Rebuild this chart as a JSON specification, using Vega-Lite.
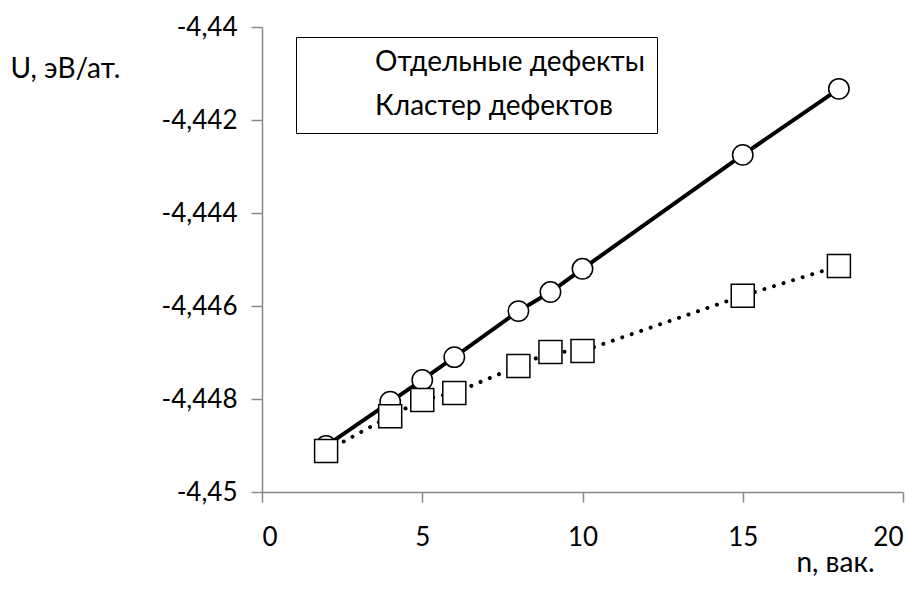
{
  "$schema": "https://vega.github.io/schema/vega-lite/v6.json",
  "autosize": "none",
  "width": 641,
  "height": 465,
  "padding": {"left": 262, "top": 27, "right": 21, "bottom": 104},
  "background": "white",
  "config": {
    "locale": {"number": {"decimal": ",", "thousands": " ", "grouping": [3], "currency": ["", ""], "minus": "-"}},
    "view": {"stroke": null},
    "font": "Lato",
    "axis": {
      "grid": false,
      "domainColor": "#898989",
      "domainWidth": 1.5,
      "tickColor": "#898989",
      "tickWidth": 1.5,
      "labelFont": "Lato",
      "labelFontSize": 26,
      "labelColor": "black",
      "titleFont": "Lato",
      "titleFontSize": 28,
      "titleFontWeight": "normal",
      "titleColor": "black"
    }
  },
  "data": {
    "values": [
      {"n": 2, "U": -4.44901, "series": "Отдельные дефекты"},
      {"n": 4, "U": -4.44806, "series": "Отдельные дефекты"},
      {"n": 5, "U": -4.44759, "series": "Отдельные дефекты"},
      {"n": 6, "U": -4.44710, "series": "Отдельные дефекты"},
      {"n": 8, "U": -4.44611, "series": "Отдельные дефекты"},
      {"n": 9, "U": -4.44570, "series": "Отдельные дефекты"},
      {"n": 10, "U": -4.44520, "series": "Отдельные дефекты"},
      {"n": 15, "U": -4.44275, "series": "Отдельные дефекты"},
      {"n": 18, "U": -4.44133, "series": "Отдельные дефекты"},
      {"n": 2, "U": -4.44912, "series": "Кластер дефектов"},
      {"n": 4, "U": -4.44837, "series": "Кластер дефектов"},
      {"n": 5, "U": -4.44802, "series": "Кластер дефектов"},
      {"n": 6, "U": -4.44787, "series": "Кластер дефектов"},
      {"n": 8, "U": -4.44729, "series": "Кластер дефектов"},
      {"n": 9, "U": -4.44699, "series": "Кластер дефектов"},
      {"n": 10, "U": -4.44697, "series": "Кластер дефектов"},
      {"n": 15, "U": -4.44578, "series": "Кластер дефектов"},
      {"n": 18, "U": -4.44514, "series": "Кластер дефектов"}
    ]
  },
  "encoding": {
    "x": {
      "field": "n", "type": "quantitative",
      "scale": {"domain": [0, 20], "nice": false, "zero": false},
      "axis": {
        "values": [0, 5, 10, 15, 20], "format": "d",
        "tickSize": 10, "labelPadding": 22,
        "title": "n, вак.", "titleAlign": "right", "titleBaseline": "middle",
        "titleX": 612, "titleY": 71
      }
    },
    "y": {
      "field": "U", "type": "quantitative",
      "scale": {"domain": [-4.45, -4.44], "nice": false, "zero": false},
      "axis": {
        "values": [-4.45, -4.448, -4.446, -4.444, -4.442, -4.44], "format": ".3~f",
        "tickSize": 11, "labelPadding": 14,
        "title": "U, эВ/ат.", "titleAngle": 0, "titleAlign": "left", "titleBaseline": "middle",
        "titleX": -252, "titleY": 42
      }
    }
  },
  "layer": [
    {
      "transform": [{"filter": "datum.series === 'Отдельные дефекты'"}],
      "mark": {"type": "line", "color": "black", "strokeWidth": 4, "strokeCap": "round"},
      "encoding": {}
    },
    {
      "transform": [{"filter": "datum.series === 'Кластер дефектов'"}],
      "mark": {"type": "line", "color": "black", "strokeWidth": 4, "strokeCap": "round", "strokeDash": [0.01, 10]},
      "encoding": {}
    },
    {
      "transform": [{"filter": "datum.series === 'Отдельные дефекты'"}],
      "mark": {"type": "point", "filled": true, "fill": "white", "stroke": "black", "strokeWidth": 1.5, "opacity": 1, "size": 415},
      "encoding": {
        "shape": {
          "field": "series", "type": "nominal",
          "scale": {"domain": ["Отдельные дефекты", "Кластер дефектов"], "range": ["circle", "square"]},
          "legend": {
            "orient": "none", "legendX": 34, "legendY": 10,
            "title": null,
            "strokeColor": "black",
            "padding": 12,
            "rowPadding": 16,
            "symbolSize": 360,
            "symbolStrokeWidth": 1.5,
            "symbolStrokeColor": "black",
            "symbolFillColor": "white",
            "symbolOpacity": 1,
            "symbolOffset": 17,
            "labelOffset": 22,
            "labelLimit": 500,
            "labelFont": "Lato",
            "labelFontSize": 28,
            "labelColor": "black",
            "encode": {
              "legend": {"update": {"strokeWidth": {"value": 1.5}}}
            }
          }
        }
      }
    },
    {
      "transform": [{"filter": "datum.series === 'Кластер дефектов'"}],
      "mark": {"type": "point", "filled": true, "fill": "white", "stroke": "black", "strokeWidth": 1.5, "opacity": 1, "size": 529},
      "encoding": {
        "shape": {"field": "series", "type": "nominal"}
      }
    }
  ]
}
